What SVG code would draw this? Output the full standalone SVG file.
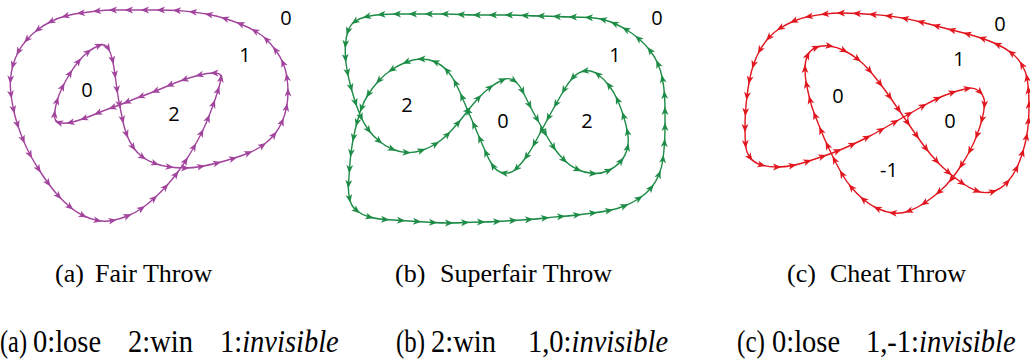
<svg xmlns="http://www.w3.org/2000/svg" width="1030" height="361" viewBox="0 0 1030 361">
<style>
.crv{fill:none;stroke-width:1.4;stroke-linejoin:round}
.pu{stroke:#a2449d;marker-start:url(#ap);marker-mid:url(#ap)}
.gr{stroke:#1d8c46;marker-start:url(#ag);marker-mid:url(#ag)}
.rd{stroke:#e2161e;marker-start:url(#ar);marker-mid:url(#ar)}
.lbl{font-family:"Open Sans","Noto Sans","DejaVu Sans",sans-serif;font-size:20px;fill:#000;text-anchor:middle}
.cap{font-family:"Liberation Serif","Times New Roman",serif;font-size:26px;fill:#000}
.cap2{font-family:"Liberation Serif","Times New Roman",serif;font-size:28.5px;fill:#000}
.it{font-style:italic}
</style>
<defs>
<marker id="ap" markerUnits="userSpaceOnUse" markerWidth="11" markerHeight="11" viewBox="-5.5 -5.5 11 11" refX="0" refY="0" orient="auto"><path d="M4.4,0 L-4,-3.4 L-1.8,0 L-4,3.4 Z" fill="#a2449d"/></marker>
<marker id="ag" markerUnits="userSpaceOnUse" markerWidth="11" markerHeight="11" viewBox="-5.5 -5.5 11 11" refX="0" refY="0" orient="auto"><path d="M4.4,0 L-4,-3.4 L-1.8,0 L-4,3.4 Z" fill="#1d8c46"/></marker>
<marker id="ar" markerUnits="userSpaceOnUse" markerWidth="11" markerHeight="11" viewBox="-5.5 -5.5 11 11" refX="0" refY="0" orient="auto"><path d="M4.4,0 L-4,-3.4 L-1.8,0 L-4,3.4 Z" fill="#e2161e"/></marker>
</defs>

<g id="connectors">
<path id="fair-curve" class="crv pu" d="M266.5,39.5 Q262,35 255,31 Q248,27 240.5,24 Q233,21 225,18.5 Q217,16 209,14.5 Q201,13 193,12 Q185,11 177,10.5 Q169,10 161,10 Q153,10 145,10 Q137,10 129,10 Q121,10 113,10 Q105,10 97,11 Q89,12 81,13 Q73,14 65.5,16 Q58,18 51,21.5 Q44,25 38,29.5 Q32,34 27,39.5 Q22,45 18.5,51.5 Q15,58 13,65 Q11,72 10.5,79.5 Q10,87 11,94.5 Q12,102 13.5,109.5 Q15,117 17.5,124.5 Q20,132 23,139.5 Q26,147 30,154.5 Q34,162 38.5,169 Q43,176 48,183 Q53,190 58.5,196 Q64,202 70,207 Q76,212 83,215.5 Q90,219 97.5,220.5 Q105,222 112.5,220.5 Q120,219 127.5,216 Q135,213 141.5,208.5 Q148,204 154,198.5 Q160,193 165.5,187 Q171,181 176,174.5 Q181,168 185.5,161 Q190,154 194,147 Q198,140 201.5,133 Q205,126 208,118.5 Q211,111 213.5,104 Q216,97 218,90.5 Q220,84 221,78.5 Q222,73 214.5,73 Q207,73 199.5,75 Q192,77 184.5,79.5 Q177,82 170,85 Q163,88 155.5,91 Q148,94 141,96.5 Q134,99 127,102 Q120,105 112.5,107.5 Q105,110 98,113 Q91,116 84,118.5 Q77,121 70.5,122.5 Q64,124 59,122.5 Q54,121 54.5,114.5 Q55,108 57,101 Q59,94 62.5,87 Q66,80 70,73.5 Q74,67 78.5,61.5 Q83,56 88,52 Q93,48 99,45.5 Q105,43 108,48 Q111,53 112.5,60 Q114,67 115,74.5 Q116,82 117,89.5 Q118,97 119.5,104.5 Q121,112 122.5,119.5 Q124,127 126.5,134 Q129,141 133,147 Q137,153 142.5,157 Q148,161 155,163.5 Q162,166 169.5,167 Q177,168 185,168 Q193,168 201,166.5 Q209,165 217,163 Q225,161 233,158.5 Q241,156 248.5,153 Q256,150 262.5,145.5 Q269,141 274,135 Q279,129 282,122 Q285,115 286.5,107.5 Q288,100 288,92.5 Q288,85 287,77.5 Q286,70 283,63 Q280,56 275.5,50 Q271,44 266.5,39.5"/>
<path id="superfair-curve" class="crv gr" d="M603,19.5 Q597,18 589,17.5 Q581,17 573,17 Q565,17 557,16.5 Q549,16 541,16 Q533,16 525,15.5 Q517,15 509,15 Q501,15 493,15 Q485,15 477,15 Q469,15 461,14.5 Q453,14 445,14 Q437,14 429,14 Q421,14 413,14 Q405,14 397,14 Q389,14 381.5,14.5 Q374,15 367,16.5 Q360,18 355,21.5 Q350,25 348,31 Q346,37 345.5,44 Q345,51 345.5,58 Q346,65 347.5,72.5 Q349,80 351,87.5 Q353,95 355.5,102.5 Q358,110 361,117 Q364,124 368.5,130 Q373,136 379,141 Q385,146 392,149 Q399,152 406.5,152.5 Q414,153 421.5,150.5 Q429,148 435.5,144 Q442,140 447.5,134.5 Q453,129 458,123 Q463,117 468,110.5 Q473,104 478.5,98 Q484,92 490,87.5 Q496,83 502.5,80 Q509,77 514,80.5 Q519,84 522.5,91 Q526,98 529.5,105 Q533,112 537,119 Q541,126 545,133 Q549,140 553.5,147 Q558,154 564,160 Q570,166 577.5,169.5 Q585,173 593,173.5 Q601,174 608.5,170.5 Q616,167 621,161 Q626,155 627.5,147.5 Q629,140 627.5,132 Q626,124 623.5,116 Q621,108 617.5,100 Q614,92 609,85.5 Q604,79 598,74.5 Q592,70 585,71 Q578,72 573,77.5 Q568,83 564,90 Q560,97 556,104 Q552,111 548.5,117.5 Q545,124 541.5,130.5 Q538,137 534.5,143.5 Q531,150 526.5,156.5 Q522,163 516.5,168.5 Q511,174 504,173 Q497,172 493,166 Q489,160 486,153 Q483,146 480,139 Q477,132 474,125 Q471,118 468,111 Q465,104 462,97 Q459,90 455.5,83 Q452,76 447,70.5 Q442,65 435.5,62 Q429,59 421.5,59 Q414,59 406.5,62 Q399,65 392,69.5 Q385,74 379,80.5 Q373,87 368.5,94 Q364,101 361.5,108 Q359,115 357,122.5 Q355,130 353.5,137.5 Q352,145 351,153 Q350,161 349.5,169 Q349,177 348.5,184 Q348,191 349.5,198.5 Q351,206 356.5,210.5 Q362,215 369.5,217 Q377,219 385,219.5 Q393,220 401,220.5 Q409,221 417,221.5 Q425,222 433,222.5 Q441,223 449,223 Q457,223 465,222.5 Q473,222 481,222 Q489,222 497,221.5 Q505,221 513,220.5 Q521,220 529,219.5 Q537,219 545,218 Q553,217 561,216.5 Q569,216 577,215 Q585,214 593,213 Q601,212 609,210.5 Q617,209 624.5,206 Q632,203 639,198.5 Q646,194 651,188 Q656,182 659,174.5 Q662,167 663,159 Q664,151 664.5,143 Q665,135 665,127 Q665,119 665,111 Q665,103 664.5,95 Q664,87 662.5,79 Q661,71 658,64 Q655,57 650,50.5 Q645,44 638.5,38.5 Q632,33 626,29.5 Q620,26 614.5,23.5 Q609,21 603,19.5"/>
<path id="cheat-curve" class="crv rd" d="M1027,78 Q1026,72 1022,65 Q1018,58 1011.5,53 Q1005,48 997.5,44.5 Q990,41 982.5,38.5 Q975,36 967.5,34 Q960,32 952,30 Q944,28 936.5,26 Q929,24 921,22 Q913,20 905,18.5 Q897,17 889,16 Q881,15 873,14.5 Q865,14 857,13.5 Q849,13 841,13 Q833,13 825,14 Q817,15 809,16.5 Q801,18 794,21 Q787,24 780.5,28 Q774,32 769,37.5 Q764,43 760,50 Q756,57 753.5,64.5 Q751,72 749.5,80 Q748,88 747,96 Q746,104 745.5,112 Q745,120 745,128 Q745,136 745.5,144 Q746,152 750,157.5 Q754,163 761.5,165 Q769,167 777,167 Q785,167 792.5,165.5 Q800,164 807.5,161.5 Q815,159 822.5,156.5 Q830,154 837.5,151 Q845,148 852.5,144.5 Q860,141 867,137.5 Q874,134 881,130 Q888,126 895,122 Q902,118 909,114 Q916,110 923,106 Q930,102 937.5,98.5 Q945,95 952.5,92.5 Q960,90 967.5,88.5 Q975,87 980,92 Q985,97 984.5,104.5 Q984,112 982,119.5 Q980,127 977,135 Q974,143 970,150.5 Q966,158 961.5,165 Q957,172 951.5,179 Q946,186 939,192 Q932,198 924.5,203 Q917,208 909,211 Q901,214 893,213 Q885,212 877.5,208.5 Q870,205 863.5,199.5 Q857,194 851.5,187.5 Q846,181 842,174 Q838,167 834.5,160 Q831,153 827.5,145.5 Q824,138 821,130.5 Q818,123 815,115.5 Q812,108 810,100 Q808,92 806.5,84.5 Q805,77 805,69 Q805,61 807.5,55.5 Q810,50 816,47.5 Q822,45 829.5,46 Q837,47 844,50.5 Q851,54 857.5,59 Q864,64 869.5,70.5 Q875,77 880,83.5 Q885,90 889.5,96.5 Q894,103 898.5,109.5 Q903,116 907.5,122.5 Q912,129 916.5,135.5 Q921,142 926,148.5 Q931,155 936.5,161 Q942,167 948.5,172.5 Q955,178 962,183 Q969,188 977,191 Q985,194 993,191.5 Q1001,189 1007,182.5 Q1013,176 1016.5,168.5 Q1020,161 1022.5,153 Q1025,145 1026.5,137 Q1028,129 1028.5,121 Q1029,113 1029,105 Q1029,97 1028.5,90.5 Q1028,84 1027,78"/>
</g>

<g id="fair">
<text class="lbl" x="286" y="25">0</text>
<text class="lbl" x="245" y="62">1</text>
<text class="lbl" x="87" y="97">0</text>
<text class="lbl" x="174" y="121">2</text>
<text class="cap" x="55" y="282">(a)<tspan x="95">Fair Throw</tspan></text>
</g>

<g id="superfair">
<text class="lbl" x="657" y="25">0</text>
<text class="lbl" x="615" y="62">1</text>
<text class="lbl" x="407" y="112">2</text>
<text class="lbl" x="503" y="128">0</text>
<text class="lbl" x="587" y="128">2</text>
<text class="cap" x="395" y="282">(b)<tspan x="440">Superfair Throw</tspan></text>
</g>

<g id="cheat">
<text class="lbl" x="1000" y="31">0</text>
<text class="lbl" x="959" y="66">1</text>
<text class="lbl" x="838" y="103">0</text>
<text class="lbl" x="950" y="128">0</text>
<text class="lbl" x="889" y="177">-1</text>
<text class="cap" x="787" y="282">(c)<tspan x="830">Cheat Throw</tspan></text>
</g>

<g id="summary" transform="translate(0,352) scale(1,1.08)">
<text class="cap2" x="0" y="0" textLength="27" lengthAdjust="spacingAndGlyphs">(a)</text>
<text class="cap2" x="33" y="0">0:lose<tspan x="128">2:win</tspan><tspan x="220">1:</tspan><tspan class="it">invisible</tspan></text>
<text class="cap2" x="396" y="0" textLength="29" lengthAdjust="spacingAndGlyphs">(b)</text>
<text class="cap2" x="431" y="0">2:win<tspan x="528">1,0:</tspan><tspan class="it">invisible</tspan></text>
<text class="cap2" x="737" y="0" textLength="28" lengthAdjust="spacingAndGlyphs">(c)</text>
<text class="cap2" x="772" y="0">0:lose<tspan x="866">1,-1:</tspan><tspan class="it">invisible</tspan></text>
</g>
</svg>
